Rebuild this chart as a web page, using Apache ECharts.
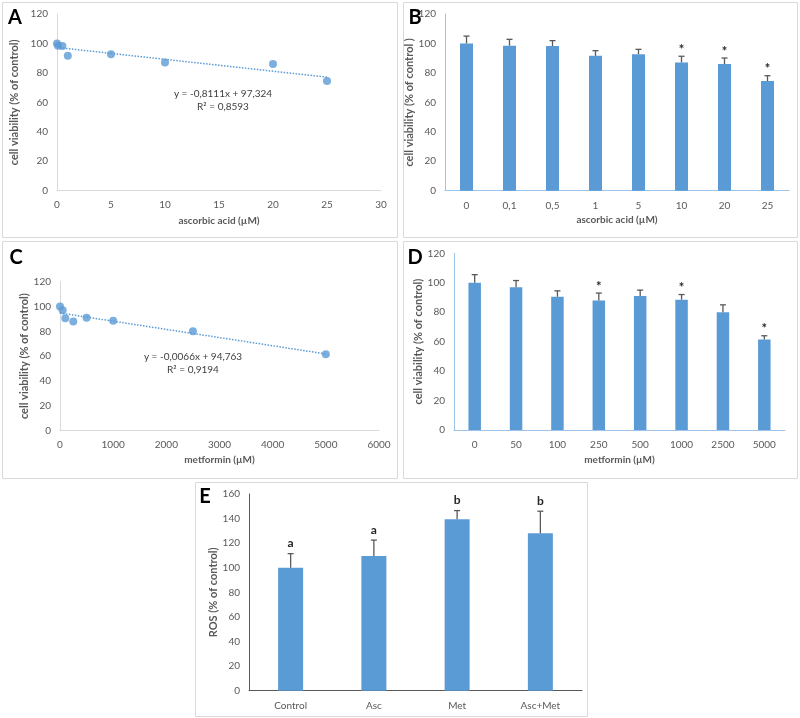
<!DOCTYPE html>
<html><head><meta charset="utf-8">
<script src="https://cdn.jsdelivr.net/npm/echarts@6/dist/echarts.min.js"></script>
<style>html,body{margin:0;padding:0;background:#fff}#c{width:800px;height:718px}</style>
</head><body><div id="c"></div>
<script>
// ---- data ----
const ascConc   = [0, 0.1, 0.5, 1, 5, 10, 20, 25];
const ascLabels = ['0', '0,1', '0,5', '1', '5', '10', '20', '25'];
const ascMean   = [100, 98.5, 98.2, 91.6, 92.7, 87.1, 86, 74.5];
const ascSD     = [5, 4.3, 3.7, 3.5, 3.3, 4.2, 4.1, 3.6];
const ascSig    = ['', '', '', '', '', '*', '*', '*'];
const ascTrend  = [[0, 97.3], [25, 77.1]];
const ascEq     = ['y = -0,8111x + 97,324', 'R\u00b2 = 0,8593'];

const metConc   = [0, 50, 100, 250, 500, 1000, 2500, 5000];
const metLabels = ['0', '50', '100', '250', '500', '1000', '2500', '5000'];
const metMean   = [100, 97, 90.5, 88, 91, 88.5, 80, 61.5];
const metSD     = [5.5, 4.5, 4, 5, 4, 3.5, 5, 2.5];
const metSig    = ['', '', '', '*', '', '*', '', '*'];
const metTrend  = [[0, 94.8], [5000, 61.8]];
const metEq     = ['y = -0,0066x + 94,763', 'R\u00b2 = 0,9194'];

const rosLabels = ['Control', 'Asc', 'Met', 'Asc+Met'];
const rosMean   = [100, 109.5, 139.5, 128];
const rosSD     = [11.5, 13, 7, 18];
const rosSig    = ['a', 'a', 'b', 'b'];

const viabTicks = {min: 0, max: 120, interval: 20};
const rosTicks  = {min: 0, max: 160, interval: 20};

// ---- styles ----
const FONT = 'Lato, "Open Sans", sans-serif';
const BLUE = '#5b9bd5';
const TXT = '#595959';

const chart = echarts.init(document.getElementById('c'));

function valAxis(grid, ticks, lineColor, extra) {
  return Object.assign({
    gridIndex: grid, type: 'value', min: ticks.min, max: ticks.max, interval: ticks.interval,
    axisLine: {show: true, onZero: false, lineStyle: {color: lineColor, width: 1}},
    axisTick: {show: false}, splitLine: {show: false},
    axisLabel: {color: TXT, fontSize: 10, fontFamily: FONT, margin: 9, formatter: v => String(v)},
    nameLocation: 'middle',
    nameTextStyle: {color: TXT, fontSize: 10, fontWeight: 'bold', fontFamily: FONT}
  }, extra || {});
}
function catAxis(grid, labels, lineColor, extra) {
  return Object.assign({
    gridIndex: grid, type: 'category', data: labels,
    axisLine: {show: true, lineStyle: {color: lineColor, width: 1}},
    axisTick: {show: false}, splitLine: {show: false},
    axisLabel: {color: TXT, fontSize: 10, fontFamily: FONT, margin: 10, interval: 0},
    nameLocation: 'middle',
    nameTextStyle: {color: TXT, fontSize: 10, fontWeight: 'bold', fontFamily: FONT}
  }, extra || {});
}
const yName = {color: TXT, fontSize: 11, fontWeight: 'bold', fontFamily: FONT};

function errSeries(idx, means, sds, marks, markFont, markGap) {
  return {
    type: 'custom', xAxisIndex: idx, yAxisIndex: idx, z: 5,
    data: means.map((m, i) => [i, m, m + sds[i]]),
    renderItem: function (params, api) {
      const i = params.dataIndex;
      const p0 = api.coord([api.value(0), api.value(1)]);
      const p1 = api.coord([api.value(0), api.value(2)]);
      const st = {stroke: '#595959', lineWidth: 1.3};
      const children = [
        {type: 'line', shape: {x1: p0[0], y1: p0[1], x2: p1[0], y2: p1[1]}, style: st},
        {type: 'line', shape: {x1: p1[0] - 3, y1: p1[1], x2: p1[0] + 3, y2: p1[1]}, style: st}
      ];
      if (marks[i]) {
        children.push({type: 'text', style: {text: marks[i], x: p1[0], y: p1[1] - markGap,
          align: 'center', verticalAlign: 'bottom', font: markFont, fill: '#262626'}});
      }
      return {type: 'group', children: children};
    }
  };
}

const panels = [
  [2, 2, 395, 235], [403, 2, 394, 235], [2, 241, 395, 237], [403, 241, 394, 237], [195, 482, 392, 234]
];
const graphic = panels.map(p => ({type: 'rect', shape: {x: p[0] + 0.5, y: p[1] + 0.5, width: p[2], height: p[3]},
  style: {fill: 'none', stroke: '#d9d9d9', lineWidth: 1}, silent: true}));
[['A', 15, 18], ['B', 415, 18], ['C', 16, 258], ['D', 415, 258], ['E', 205, 497]].forEach(l => {
  graphic.push({type: 'text', style: {text: l[0], x: l[1], y: l[2], align: 'center', verticalAlign: 'middle',
    font: 'bold 20px ' + FONT, fill: '#000'}});
});
[[ascEq, 223, 94], [metEq, 193, 357]].forEach(e => {
  graphic.push({type: 'text', style: {text: e[0][0], x: e[1], y: e[2], align: 'center', verticalAlign: 'middle',
    font: '10px ' + FONT, fill: '#404040'}});
  graphic.push({type: 'text', style: {text: e[0][1], x: e[1], y: e[2] + 13, align: 'center', verticalAlign: 'middle',
    font: '10px ' + FONT, fill: '#404040'}});
});

const option = {
  animation: false,
  backgroundColor: '#fff',
  textStyle: {fontFamily: FONT},
  grid: [
    {left: 57, top: 14, width: 324, height: 176.7},
    {left: 445, top: 14, width: 344, height: 176.7},
    {left: 60, top: 281.7, width: 319, height: 149},
    {left: 454, top: 253.3, width: 331, height: 176.7},
    {left: 249, top: 494, width: 333, height: 196.7}
  ],
  xAxis: [
    valAxis(0, {min: 0, max: 30, interval: 5}, '#d9d9d9', {name: 'ascorbic acid (\u00b5M)', nameGap: 25}),
    catAxis(1, ascLabels, '#9dc3e6', {name: 'ascorbic acid (\u00b5M)', nameGap: 24}),
    valAxis(2, {min: 0, max: 6000, interval: 1000}, '#d9d9d9', {name: 'metformin (\u00b5M)', nameGap: 24}),
    catAxis(3, metLabels, '#9dc3e6', {name: 'metformin (\u00b5M)', nameGap: 25}),
    catAxis(4, rosLabels, '#595959')
  ],
  yAxis: [
    valAxis(0, viabTicks, '#d9d9d9', {name: 'cell viability (% of control)', nameGap: 37, nameTextStyle: yName}),
    valAxis(1, viabTicks, '#9dc3e6', {name: 'cell viability (% of control )', nameGap: 30, nameTextStyle: yName}),
    valAxis(2, viabTicks, '#d9d9d9', {name: 'cell viability (% of control)', nameGap: 29, nameTextStyle: yName}),
    valAxis(3, viabTicks, '#9dc3e6', {name: 'cell viability (% of control)', nameGap: 27, nameTextStyle: yName}),
    valAxis(4, rosTicks, '#595959', {name: 'ROS (% of control)', nameGap: 29, nameTextStyle: yName})
  ],
  graphic: graphic,
  series: [
    {type: 'line', xAxisIndex: 0, yAxisIndex: 0, data: ascTrend, symbol: 'none',
      lineStyle: {color: BLUE, width: 1.5, type: 'dotted'}},
    {type: 'scatter', xAxisIndex: 0, yAxisIndex: 0, data: ascConc.map((c, i) => [c, ascMean[i]]),
      symbolSize: 8, itemStyle: {color: BLUE}},
    {type: 'bar', xAxisIndex: 1, yAxisIndex: 1, data: ascMean, barWidth: 13, itemStyle: {color: BLUE}},
    errSeries(1, ascMean, ascSD, ascSig, 'bold 13px ' + FONT, 0),
    {type: 'line', xAxisIndex: 2, yAxisIndex: 2, data: metTrend, symbol: 'none',
      lineStyle: {color: BLUE, width: 1.5, type: 'dotted'}},
    {type: 'scatter', xAxisIndex: 2, yAxisIndex: 2, data: metConc.map((c, i) => [c, metMean[i]]),
      symbolSize: 8, itemStyle: {color: BLUE}},
    {type: 'bar', xAxisIndex: 3, yAxisIndex: 3, data: metMean, barWidth: 12.5, itemStyle: {color: BLUE}},
    errSeries(3, metMean, metSD, metSig, 'bold 13px ' + FONT, 0),
    {type: 'bar', xAxisIndex: 4, yAxisIndex: 4, data: rosMean, barWidth: 25, itemStyle: {color: BLUE}},
    errSeries(4, rosMean, rosSD, rosSig, 'bold 12px ' + FONT, 4)
  ]
};
chart.setOption(option);
</script></body></html>
